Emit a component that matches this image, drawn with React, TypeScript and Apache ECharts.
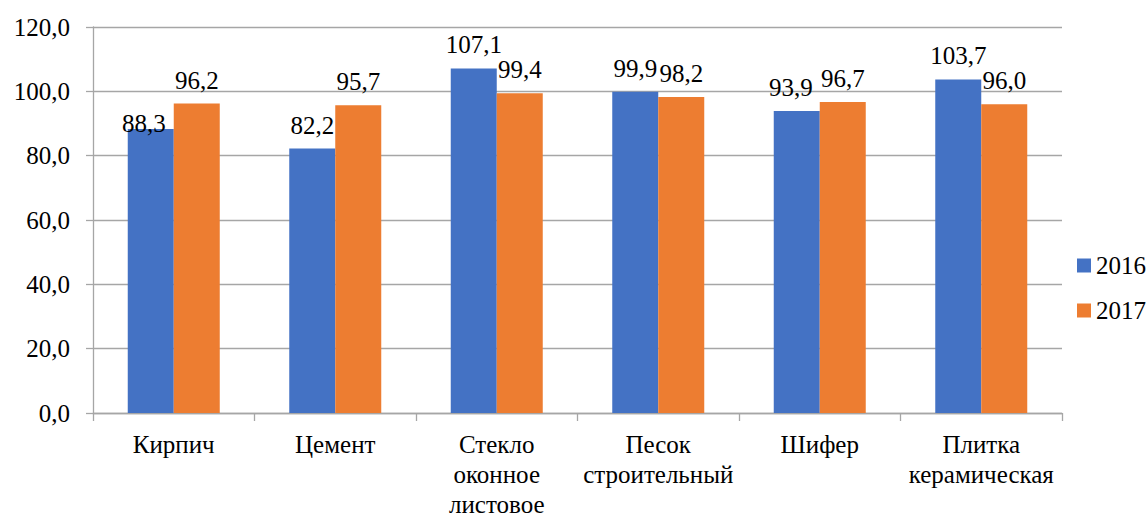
import React, { useEffect, useRef } from "react";
import * as echarts from "echarts";

const categories = [
  "Кирпич",
  "Цемент",
  "Стекло\nоконное\nлистовое",
  "Песок\nстроительный",
  "Шифер",
  "Плитка\nкерамическая",
];
const values2016 = [88.3, 82.2, 107.1, 99.9, 93.9, 103.7];
const values2017 = [96.2, 95.7, 99.4, 98.2, 96.7, 96.0];
const seriesNames = ["2016", "2017"];

// manual label nudges seen in the reference (index -> [dx, dy])
const labelOffsets2016: Record<number, number[]> = { 0: [-7, 18], 4: [-6, 0] };
const labelOffsets2017: Record<number, number[]> = {};

const FONT = "Times New Roman";
const fmt = (v: number) => v.toFixed(1).replace(".", ",");

function buildData(vals: number[], offsets: Record<number, number[]>) {
  return vals.map((v, i) =>
    offsets[i] ? { value: v, label: { offset: offsets[i] } } : { value: v }
  );
}

export default function App() {
  const ref = useRef<HTMLDivElement>(null);
  useEffect(() => {
    if (!ref.current) return;
    const chart = echarts.init(ref.current, null, { renderer: "svg" });
    const labelCfg = {
      show: true,
      position: "top",
      distance: 11,
      color: "#000",
      fontFamily: FONT,
      fontSize: 25,
      formatter: (p: any) => fmt(p.value),
    };
    chart.setOption({
      animation: false,
      backgroundColor: "#fff",
      textStyle: { fontFamily: FONT },
      grid: {
        left: 93,
        right: 84,
        top: 27,
        bottom: 103,
        containLabel: false,
        outerBoundsMode: "none",
      },
      legend: {
        orient: "vertical",
        left: 1072,
        top: 248,
        itemWidth: 14,
        itemHeight: 14,
        itemGap: 20,
        icon: "rect",
        data: seriesNames,
        textStyle: { fontFamily: FONT, fontSize: 25, color: "#000" },
      },
      xAxis: {
        type: "category",
        data: categories,
        boundaryGap: true,
        axisLine: { lineStyle: { color: "#a6a6a6", width: 1.3 } },
        axisTick: { show: true, length: 8, lineStyle: { color: "#a6a6a6", width: 1.3 } },
        axisLabel: {
          color: "#000",
          fontFamily: FONT,
          fontSize: 25,
          lineHeight: 30,
          margin: 16,
          interval: 0,
        },
      },
      yAxis: {
        type: "value",
        min: 0,
        max: 120,
        interval: 20,
        axisLine: { show: true, lineStyle: { color: "#a6a6a6", width: 1.3 } },
        axisTick: { show: true, length: 7, lineStyle: { color: "#a6a6a6", width: 1.3 } },
        splitLine: { show: true, lineStyle: { color: "#a6a6a6", width: 1.3 } },
        axisLabel: {
          color: "#000",
          fontFamily: FONT,
          fontSize: 25,
          margin: 23,
          formatter: (v: number) => fmt(v),
        },
      },
      series: [
        {
          name: seriesNames[0],
          type: "bar",
          data: buildData(values2016, labelOffsets2016),
          barWidth: 46,
          barGap: "0%",
          itemStyle: { color: "#4472C4" },
          label: labelCfg,
        },
        {
          name: seriesNames[1],
          type: "bar",
          data: buildData(values2017, labelOffsets2017),
          barWidth: 46,
          barGap: "0%",
          itemStyle: { color: "#ED7D31" },
          label: labelCfg,
        },
      ],
    });
    return () => chart.dispose();
  }, []);
  return (
    <div
      ref={ref}
      style={{ position: "fixed", left: 0, top: 0, width: 1146, height: 516, background: "#fff" }}
    />
  );
}
